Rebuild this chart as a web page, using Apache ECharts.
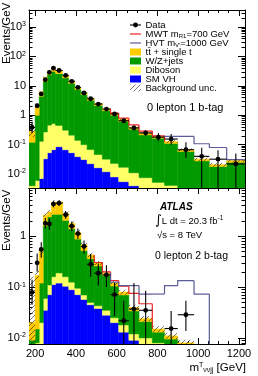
<!DOCTYPE html>
<html>
<head>
<meta charset="utf-8">
<script src="https://cdn.jsdelivr.net/npm/echarts@6.0.0/dist/echarts.min.js"></script>
<style>
html,body{margin:0;padding:0;background:#fff;}
#chart{width:258px;height:376px;}
</style>
</head>
<body>
<div id="chart"></div>
<script>
// ---------------- DATA ----------------
const binEdges = [170,200,220,240,260,280,300,335,365,395,425,455,490,530,570,610,660,710,775,835,900,980,1055,1140,1230];

// Top panel: 0 lepton 1 b-tag (Events/GeV)
const top_VH      = [0.002,0.002,0.007,0.033,0.053,0.067,0.085,0.067,0.053,0.039,0.031,0.0225,0.0164,0.012,0.008,0.0055,0.004,0.003,0.0022,0.0016,0.0012,0.001,0.0008,0.0006];
const top_Diboson = [0.002,0.004,0.123,0.237,0.407,0.453,0.365,0.243,0.157,0.101,0.069,0.0455,0.0296,0.020,0.015,0.0115,0.007,0.0045,0.003,0.0025,0.002,0.0015,0.0012,0.001];
const top_WZjets  = [0.116,0.994,4.27,13.7,23.5,30.5,25.5,18.2,11.8,7.46,4.9,3.18,2.10,1.39,0.977,0.603,0.324,0.207,0.16,0.106,0.055,0.0255,0.016,0.0234];
const top_ttbar   = [0.16,1.0,1.9,5.5,8,9,6,4.0,2.3,1.4,0.9,0.55,0.35,0.23,0.15,0.1,0.055,0.035,0.025,0.018,0.009,0.004,0.003,0.004];
const top_bkgUnc  = [0.1,0.2,0.5,1.5,2.4,3,2.4,1.7,1.1,0.7,0.45,0.3,0.2,0.13,0.09,0.06,0.035,0.025,0.02,0.014,0.008,0.004,0.003,0.004];
const top_MWT700  = [0,0,0,0,0,0,0,0,0,0,0,0,0,0,0.03,0.08,0.08,0.04,0.01,0,0,0,0,0];
const top_HVT1000 = [0,0,0,0,0,0,0,0,0,0,0,0,0,0,0,0,0,0,0,0.062,0.123,0.075,0.059,0.002];
const top_data     = [0.385,2.1,5.3,16.1,28.5,40,33.3,22.6,14.1,8.8,5.7,3.64,2.4,1.62,1.1,0.65,0.37,0.25,0.18,0.155,0.067,0.04,0.032,0.022];
const top_dataLow  = [0.25,1.75,4.7,15.2,27.3,38.7,32.2,21.7,13.4,8.3,5.3,3.35,2.2,1.46,0.97,0.56,0.3,0.2,0.13,0.1,0.035,0.003,0.002,0.002];
const top_dataHigh = [0.6,2.5,5.9,17,29.7,41.3,34.4,23.5,14.8,9.3,6.1,3.95,2.62,1.8,1.24,0.75,0.45,0.31,0.25,0.23,0.12,0.078,0.065,0.05];

// Bottom panel: 0 lepton 2 b-tag (Events/GeV)
const bot_VH      = [0.003,0.005,0.006,0.035,0.071,0.112,0.12,0.104,0.089,0.071,0.057,0.045,0.038,0.028,0.02,0.013,0.009,0.007,0.005,0.004,0.003,0.002,0.0015,0.001];
const bot_Diboson = [0.002,0.003,0.014,0.025,0.039,0.048,0.07,0.056,0.036,0.024,0.013,0.005,0.005,0.007,0.005,0.005,0.003,0.003,0.003,0.003,0.003,0.002,0.0015,0.001];
const bot_WZjets  = [0.004,0.007,0.10,1.54,2.29,2.54,2.51,1.89,1.275,0.785,0.45,0.31,0.217,0.135,0.08,0.052,0.022,0.011,0.005,0.0025,0.001,0.0005,0.0005,0.0005];
const bot_ttbar   = [0.011,0.155,0.38,1.0,0.6,2.0,2.0,0.75,0.4,0.32,0.16,0.07,0.04,0.02,0.015,0.01,0.006,0.003,0.002,0.0015,0.001,0.0005,0.0005,0.0005];
const bot_bkgUnc  = [0.14,0.04,0.06,0.25,0.28,0.4,0.4,0.25,0.17,0.12,0.07,0.045,0.03,0.02,0.013,0.009,0.005,0.003,0.002,0.0015,0.0012,0.001,0.0008,0.0006];
const bot_MWT700  = [0,0,0,0,0,0,0,0,0,0,0,0,0.005,0.01,0.015,0.025,0.035,0.023,0,0,0,0,0,0];
const bot_HVT1000 = [0,0,0,0,0,0,0,0,0,0,0,0,0,0,0.005,0.027,0.067,0.049,0.058,0.096,0.126,0.068,0,0];
const bot_data     = [0.079,0.3,0.55,1.8,1.75,4.3,4.5,2.65,1.58,1.13,0.63,0.28,0.188,0.174,0.071,0.0218,0.037,0.035,null,0.0153,0.0286,null,null,null];
const bot_dataLow  = [0.045,0.2,0.38,1.4,1.35,3.7,3.95,2.2,1.25,0.88,0.46,0.16,0.107,0.1,0.027,0.001,0.001,0.001,null,0.001,0.0137,null,null,null];
const bot_dataHigh = [0.14,0.46,0.76,2.3,2.25,5.0,5.1,3.15,1.95,1.42,0.83,0.45,0.29,0.27,0.122,0.054,0.12,0.085,null,0.034,0.054,null,null,null];

// Axes / ticks
const xRange = [170, 1230];
const xMajorTicks = [200, 400, 600, 800, 1000, 1200];
const topYRange = [0.00335, 3800];
const botYRange = [0.0076, 8.9];

// ---------------- STYLE ----------------
const FONT = '"Liberation Sans", Arial, Helvetica, sans-serif';
const COL = {VH:'#0000ff', Diboson:'#ffff66', WZ:'#009900', tt:'#ffcc00', MWT:'#ee2222', HVT:'#5c5c98'};

function makeHatch(bg) {
  const c = document.createElement('canvas'); c.width = 5; c.height = 5;
  const g = c.getContext('2d');
  if (bg) { g.fillStyle = bg; g.fillRect(0,0,5,5); }
  g.strokeStyle = 'rgba(30,30,30,0.75)'; g.lineWidth = 0.8;
  g.beginPath();
  g.moveTo(0,5); g.lineTo(5,0);
  g.moveTo(-1,1); g.lineTo(1,-1);
  g.moveTo(4,6); g.lineTo(6,4);
  g.stroke();
  return {image: c, repeat: 'repeat'};
}
const HATCH = makeHatch(null);
const HATCH_LEG = makeHatch('#ffffff');

const xMinorTicks = [];
for (let v = 200; v <= 1200; v += 50) if (v % 200 !== 0) xMinorTicks.push(v);
function logMinor(r) {
  const out = [];
  for (let k = -4; k <= 4; k++) for (let m = 2; m <= 9; m++) {
    const v = m * Math.pow(10, k);
    if (v > r[0] && v < r[1]) out.push(Math.log10(v));
  }
  return out;
}

const panels = [
  {range: topYRange, comps:[top_VH, top_Diboson, top_WZjets, top_ttbar], unc: top_bkgUnc, mwt: top_MWT700, hvt: top_HVT1000, data: top_data, lo: top_dataLow, hi: top_dataHigh},
  {range: botYRange, comps:[bot_VH, bot_Diboson, bot_WZjets, bot_ttbar], unc: bot_bkgUnc, mwt: bot_MWT700, hvt: bot_HVT1000, data: bot_data, lo: bot_dataLow, hi: bot_dataHigh}
];

const grids = [
  {left: 29, right: 13, top: 10, height: 178, outerBoundsMode: 'none', containLabel: false},
  {left: 29, right: 13, top: 188, height: 156, outerBoundsMode: 'none', containLabel: false}
];

const xAxes = [], yAxes = [];
const axisLineOn = {show: true, onZero: false, lineStyle: {color: '#000', width: 1}};
const axisLineOff = {show: false, onZero: false};
function supLabel(v) {
  const e = Math.round(Math.log10(v));
  if (e === 0) return '1';
  if (e === 1) return '10';
  return '{b|10}{s|' + e + '}';
}
panels.forEach((p, g) => {
  const showX = g === 1;
  const xBase = {gridIndex: g, type: 'value', min: xRange[0], max: xRange[1], splitLine: {show: false}};
  xAxes.push(Object.assign({}, xBase, {position: 'bottom', axisLine: axisLineOn,
    axisTick: {show: true, inside: true, length: 6, customValues: xMajorTicks, lineStyle: {color: '#000'}},
    axisLabel: {show: showX, customValues: xMajorTicks, fontSize: 11, color: '#000', fontFamily: FONT, margin: 4,
      formatter: v => String(v)}}));
  xAxes.push(Object.assign({}, xBase, {position: 'bottom', axisLine: axisLineOff,
    axisTick: {show: true, inside: true, length: 3, customValues: xMinorTicks, lineStyle: {color: '#000'}},
    axisLabel: {show: false}}));
  xAxes.push(Object.assign({}, xBase, {position: 'top', axisLine: axisLineOn,
    axisTick: {show: true, inside: true, length: 6, customValues: xMajorTicks, lineStyle: {color: '#000'}},
    axisLabel: {show: false}}));
  xAxes.push(Object.assign({}, xBase, {position: 'top', axisLine: axisLineOff,
    axisTick: {show: true, inside: true, length: 3, customValues: xMinorTicks, lineStyle: {color: '#000'}},
    axisLabel: {show: false}}));

  const r = p.range;
  const minorVals = logMinor(r);
  ['left', 'right'].forEach(pos => {
    yAxes.push({gridIndex: g, type: 'log', logBase: 10, min: r[0], max: r[1], position: pos,
      splitLine: {show: false}, axisLine: axisLineOn,
      axisTick: {show: true, inside: true, length: 7, lineStyle: {color: '#000'}},
      axisLabel: {show: pos === 'left', showMinLabel: false, showMaxLabel: false, margin: 3,
        formatter: supLabel, color: '#000', fontFamily: FONT, fontSize: 11,
        rich: {b: {fontSize: 11, fontFamily: FONT, color: '#000', lineHeight: 12},
               s: {fontSize: 7, fontFamily: FONT, color: '#000', verticalAlign: 'top', lineHeight: 8}}}});
    yAxes.push({gridIndex: g, type: 'value', min: Math.log10(r[0]), max: Math.log10(r[1]), position: pos,
      splitLine: {show: false}, axisLine: axisLineOff,
      axisTick: {show: true, inside: true, length: 3.5, customValues: minorVals, lineStyle: {color: '#000'}},
      axisLabel: {show: false}});
  });
});

const series = [];
panels.forEach((p, g) => {
  const xi = g * 4, yi = g * 4;
  const yMin = p.range[0], yMax = p.range[1];
  const clampY = v => Math.min(Math.max(v, yMin), yMax);
  const nb = binEdges.length - 1;
  const cum = new Array(nb).fill(0);
  const compColors = [COL.VH, COL.Diboson, COL.WZ, COL.tt];
  p.comps.forEach((arr, k) => {
    const rows = arr.map((v, i) => { const lo = cum[i]; cum[i] += v; return [binEdges[i], binEdges[i+1], lo, cum[i]]; });
    const color = compColors[k];
    series.push({type: 'custom', xAxisIndex: xi, yAxisIndex: yi, z: 2, clip: true, silent: true,
      encode: {x: 0, y: 3}, data: rows,
      renderItem: (params, api) => {
        const lo = clampY(api.value(2)), hi = clampY(api.value(3));
        if (!(hi > lo)) return null;
        const a = api.coord([api.value(0), lo]), b = api.coord([api.value(1), hi]);
        return {type: 'rect', shape: {x: a[0], y: b[1], width: b[0] - a[0], height: a[1] - b[1]},
          style: {fill: color, stroke: color, lineWidth: 0.5}};
      }});
  });
  const total = cum.slice();
  // background uncertainty band
  const uncRows = p.unc.map((u, i) => [binEdges[i], binEdges[i+1], Math.max(total[i] - u, yMin), total[i] + u]);
  series.push({type: 'custom', xAxisIndex: xi, yAxisIndex: yi, z: 3, clip: true, silent: true,
    encode: {x: 0, y: 3}, data: uncRows,
    renderItem: (params, api) => {
      const lo = clampY(api.value(2)), hi = clampY(api.value(3));
      if (!(hi > lo)) return null;
      const a = api.coord([api.value(0), lo]), b = api.coord([api.value(1), hi]);
      return {type: 'rect', shape: {x: a[0], y: b[1], width: b[0] - a[0], height: a[1] - b[1]}, style: {fill: HATCH}};
    }});
  // signal + background lines (drawn where the signal contributes)
  [[p.mwt, COL.MWT, 4], [p.hvt, COL.HVT, 5]].forEach(([sig, col, z]) => {
    const rows = sig.map((s, i) => [binEdges[i], binEdges[i+1], i > 0 ? total[i-1] + sig[i-1] : total[i],
      total[i] + s, s > 0 ? 1 : 0, (i > 0 && sig[i-1] > 0) ? 1 : 0]);
    series.push({type: 'custom', xAxisIndex: xi, yAxisIndex: yi, z: z, clip: true, silent: true,
      encode: {x: 0, y: 3}, data: rows,
      renderItem: (params, api) => {
        const on = api.value(4), prevOn = api.value(5);
        if (!on && !prevOn) return null;
        const x0 = api.value(0), x1 = api.value(1), pv = clampY(api.value(2)), v = clampY(api.value(3));
        const a = api.coord([x0, pv]), b = api.coord([x0, v]), c = api.coord([x1, v]);
        const pts = on ? [a, b, c] : [a, b];
        return {type: 'polyline', shape: {points: pts}, style: {stroke: col, lineWidth: 1.2, fill: null}};
      }});
  });
  // data points
  const dRows = [];
  p.data.forEach((v, i) => {
    if (v == null) return;
    dRows.push([(binEdges[i] + binEdges[i+1]) / 2, binEdges[i], binEdges[i+1], v, p.lo[i], p.hi[i]]);
  });
  series.push({type: 'custom', xAxisIndex: xi, yAxisIndex: yi, z: 6, clip: true, silent: true,
    encode: {x: 0, y: 3}, data: dRows,
    renderItem: (params, api) => {
      const xc = api.value(0), x0 = api.value(1), x1 = api.value(2), y = api.value(3);
      const lo = clampY(api.value(4)), hi = clampY(api.value(5));
      const c = api.coord([xc, y]), a = api.coord([x0, y]), b = api.coord([x1, y]);
      const l = api.coord([xc, lo]), h = api.coord([xc, hi]);
      return {type: 'group', children: [
        {type: 'line', shape: {x1: a[0], y1: a[1], x2: b[0], y2: b[1]}, style: {stroke: '#000', lineWidth: 1.1}},
        {type: 'line', shape: {x1: l[0], y1: l[1], x2: h[0], y2: h[1]}, style: {stroke: '#000', lineWidth: 1.1}},
        {type: 'circle', shape: {cx: c[0], cy: c[1], r: 2.4}, style: {fill: '#000'}}
      ]};
    }});
});

// ---------------- LEGEND & TEXT ----------------
const richBase = {
  n: {fontSize: 9.5, fontFamily: FONT, fill: '#000'},
  sub: {fontSize: 6, fontFamily: FONT, fill: '#000', verticalAlign: 'bottom'},
  sup: {fontSize: 6.5, fontFamily: FONT, fill: '#000', verticalAlign: 'top'}
};
const legendItems = [
  {kind: 'data', text: '{n|Data}'},
  {kind: 'line', color: COL.MWT, text: '{n|MWT m}{sub|R1}{n|=700 GeV}'},
  {kind: 'line', color: COL.HVT, text: "{n|HVT m}{sub|V'}{n|=1000 GeV}"},
  {kind: 'box', color: COL.tt, text: '{n|tt\u0304 + single t}'},
  {kind: 'box', color: COL.WZ, text: '{n|W/Z+jets}'},
  {kind: 'box', color: COL.Diboson, text: '{n|Diboson}'},
  {kind: 'box', color: COL.VH, text: '{n|SM VH}'},
  {kind: 'hatch', text: '{n|Background unc.}'}
];
const graphics = [];
legendItems.forEach((it, i) => {
  const yc = 25 + i * 9;
  if (it.kind === 'data') {
    graphics.push({type: 'line', shape: {x1: 130, y1: yc, x2: 141, y2: yc}, style: {stroke: '#000', lineWidth: 1.1}});
    graphics.push({type: 'circle', shape: {cx: 135.5, cy: yc, r: 2.4}, style: {fill: '#000'}});
  } else if (it.kind === 'line') {
    graphics.push({type: 'line', shape: {x1: 130, y1: yc, x2: 141, y2: yc}, style: {stroke: it.color, lineWidth: 1.2}});
  } else if (it.kind === 'box') {
    graphics.push({type: 'rect', shape: {x: 130, y: yc - 3.5, width: 11, height: 7}, style: {fill: it.color}});
  } else {
    graphics.push({type: 'rect', shape: {x: 130, y: yc - 3.5, width: 11, height: 7}, style: {fill: HATCH_LEG}});
  }
  graphics.push({type: 'text', x: 145.5, y: yc, style: {text: it.text, rich: richBase, verticalAlign: 'middle', align: 'left'}});
});
graphics.push({type: 'text', x: 147, y: 108, style: {text: '0 lepton 1 b-tag', fontSize: 11, fontFamily: FONT, fill: '#000', verticalAlign: 'middle'}});
graphics.push({type: 'text', x: 160, y: 207, style: {text: 'ATLAS', fontSize: 10, fontWeight: 'bold', fontStyle: 'italic', fontFamily: FONT, fill: '#000', verticalAlign: 'middle'}});
graphics.push({type: 'text', x: 155, y: 221, style: {text: '{i|\u222B}{n|L dt = 20.3 fb}{sup|-1}', verticalAlign: 'middle',
  rich: Object.assign({}, richBase, {i: {fontSize: 13, fontFamily: '"DejaVu Sans", sans-serif', fill: '#000'}})}});
graphics.push({type: 'text', x: 157, y: 235, style: {text: '\u221As = 8 TeV', fontSize: 9.5, fontFamily: FONT, fill: '#000', verticalAlign: 'middle'}});
graphics.push({type: 'text', x: 155, y: 256, style: {text: '0 lepton 2 b-tag', fontSize: 10.5, fontFamily: FONT, fill: '#000', verticalAlign: 'middle'}});
// y-axis titles, rotated to read bottom-to-top, top end near the top of each panel
[2, 189].forEach(y0 => {
  graphics.push({type: 'text', x: 7, y: y0 + 62, rotation: Math.PI / 2,
    style: {text: 'Events/GeV', fontSize: 11.5, fontFamily: FONT, fill: '#000', align: 'left', verticalAlign: 'middle'}});
});
// x-axis title
graphics.push({type: 'text', x: 246, y: 368, style: {text: '{m|m}{sup|T}{sub|\u03BD\u03BDjj}{m| [GeV]}', align: 'right', verticalAlign: 'middle',
  rich: {m: {fontSize: 11.5, fontFamily: FONT, fill: '#000'},
         sup: {fontSize: 7, fontFamily: FONT, fill: '#000', verticalAlign: 'top'},
         sub: {fontSize: 7, fontFamily: FONT, fill: '#000', verticalAlign: 'bottom'}}}});

const chart = echarts.init(document.getElementById('chart'), null, {renderer: 'canvas', width: 258, height: 376});
chart.setOption({
  animation: false,
  backgroundColor: '#ffffff',
  textStyle: {fontFamily: FONT},
  grid: grids,
  xAxis: xAxes,
  yAxis: yAxes,
  series: series,
  graphic: graphics
});
</script>
</body>
</html>
